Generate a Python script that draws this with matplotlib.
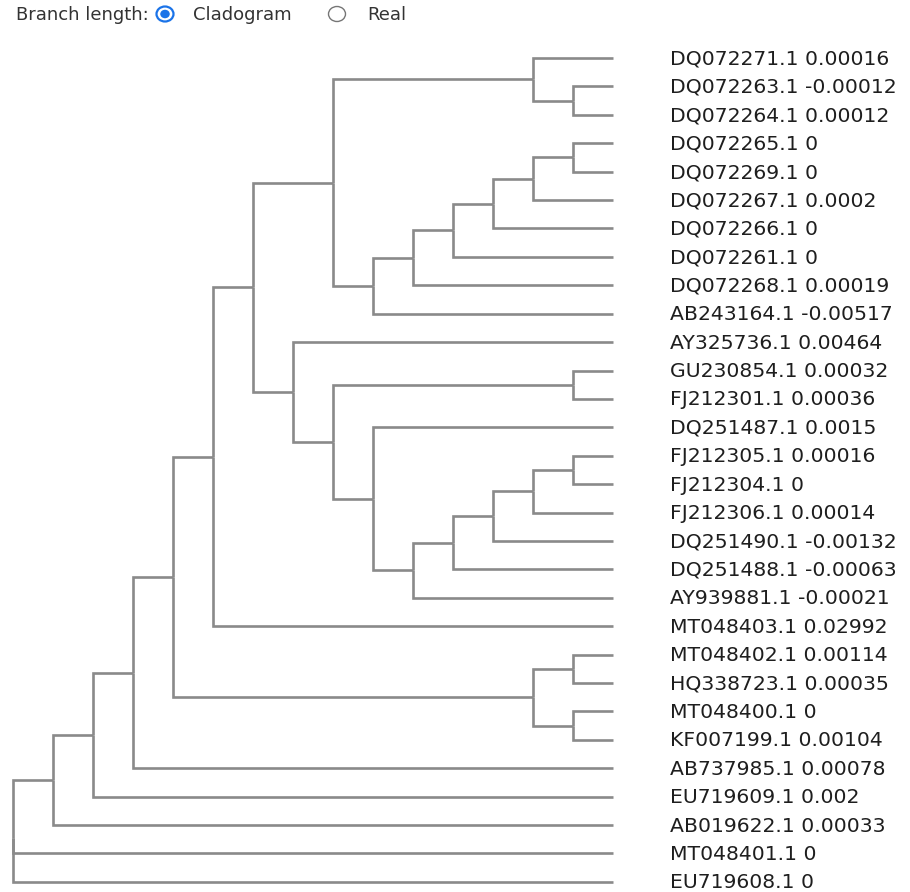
import matplotlib
matplotlib.use('Agg')
import matplotlib.pyplot as plt
from matplotlib.patches import Ellipse
from matplotlib.collections import LineCollection

# Leaf names and the values shown next to them (top to bottom)
names = ['DQ072271.1', 'DQ072263.1', 'DQ072264.1', 'DQ072265.1', 'DQ072269.1',
         'DQ072267.1', 'DQ072266.1', 'DQ072261.1', 'DQ072268.1', 'AB243164.1',
         'AY325736.1', 'GU230854.1', 'FJ212301.1', 'DQ251487.1', 'FJ212305.1',
         'FJ212304.1', 'FJ212306.1', 'DQ251490.1', 'DQ251488.1', 'AY939881.1',
         'MT048403.1', 'MT048402.1', 'HQ338723.1', 'MT048400.1', 'KF007199.1',
         'AB737985.1', 'EU719609.1', 'AB019622.1', 'MT048401.1', 'EU719608.1']
values = [0.00016, -0.00012, 0.00012, 0, 0,
          0.0002, 0, 0, 0.00019, -0.00517,
          0.00464, 0.00032, 0.00036, 0.0015, 0.00016,
          0, 0.00014, -0.00132, -0.00063, -0.00021,
          0.02992, 0.00114, 0.00035, 0, 0.00104,
          0.00078, 0.002, 0.00033, 0, 0]

# Tree topology (nested tuples of leaf indices)
tree = (
    ((((((((0, (1, 2)),
           ((((((3, 4), 5), 6), 7), 8), 9)),
          (10, ((11, 12), (13, (((((14, 15), 16), 17), 18), 19))))),
         20),
        ((21, 22), (23, 24))),
       25),
      26),
     27),
    28, 29)

# layout in pixel space
x_root, x_leaf = 13, 613
y_top, y_step = 58, 28.41
line_col = '#8a8a8a'


def height(node):
    if isinstance(node, int):
        return 0
    return 1 + max(height(c) for c in node)


H = height(tree)
dx = (x_leaf - x_root) / H


def layout(node, segs):
    # returns (x, y) of node, cluster style: leaves aligned, y = mean of children
    if isinstance(node, int):
        return x_leaf, y_top + node * y_step
    h = height(node)
    x = x_leaf - h * dx
    kids = [layout(c, segs) for c in node]
    y = sum(k[1] for k in kids) / len(kids)
    for cx, cy in kids:
        segs.append([(x, y), (x, cy), (cx, cy)])
    return x, y


segs = []
layout(tree, segs)

fig = plt.figure(figsize=(9.10, 8.92), dpi=100)
ax = fig.add_axes([0, 0, 1, 1])
ax.set_xlim(0, 910)
ax.set_ylim(892, 0)
ax.axis('off')

lc = LineCollection(segs, colors=line_col, linewidths=1.9,
                    capstyle='butt', joinstyle='miter')
ax.add_collection(lc)

for i, (n, v) in enumerate(zip(names, values)):
    ax.text(670, y_top + i * y_step + 1, f'{n} {v:g}', fontsize=14.7,
            family='DejaVu Sans', color='#1e1e1e', va='center', ha='left')

# header with radio buttons
hdr = dict(fontsize=13, family='DejaVu Sans', color='#333333', va='center', ha='left')
ax.text(16, 15, 'Branch length:', **hdr)
ax.add_patch(Ellipse((165, 14), 17, 15, facecolor='white', edgecolor='#1a73e8', lw=1.6))
ax.add_patch(Ellipse((165, 14), 9.5, 8.5, facecolor='#1a73e8', edgecolor='none'))
ax.text(193, 15, 'Cladogram', **hdr)
ax.add_patch(Ellipse((337, 14), 17, 15, facecolor='white', edgecolor='#767676', lw=1.0))
ax.text(367, 15, 'Real', **hdr)

fig.savefig('out.png', dpi=100)
